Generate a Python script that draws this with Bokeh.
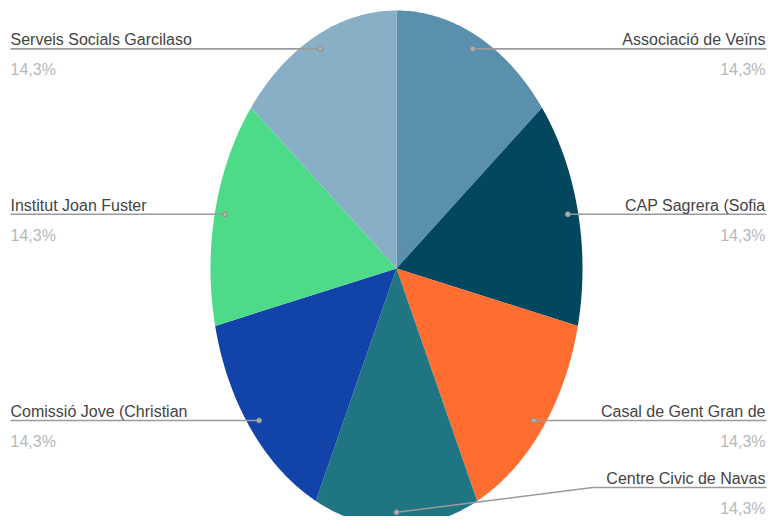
import numpy as np
from bokeh.plotting import figure
from bokeh.models import Range1d, ColumnDataSource
from bokeh.core.properties import value
from bokeh.embed import file_html
from bokeh.resources import INLINE

# ---- data ----
categories = [
    "Associació de Veïns",
    "CAP Sagrera (Sofia",
    "Casal de Gent Gran de",
    "Centre Civic de Navas",
    "Comissió Jove (Christian",
    "Institut Joan Fuster",
    "Serveis Socials Garcilaso",
]
shares = [14.3, 14.3, 14.3, 14.3, 14.3, 14.3, 14.3]
colors = ["#5b8fae", "#03475f", "#ff6d31", "#1f7682", "#1243a8", "#4ddb8a", "#88afc6"]

# ---- layout (screen-like coordinates, y downward) ----
W, H = 767, 516
CX, CY = 396, 268
RX, RY = 186, 258
ANCHOR_R = 0.945
LABEL_Y_MAX = 487
BEND_DX = 196
LEFT_X, RIGHT_X = 10, 765
FONT = "Liberation Sans"

p = figure(width=W, height=H, x_range=Range1d(0, W), y_range=Range1d(H, 0),
           output_backend="svg", toolbar_location=None, min_border=0,
           x_axis_type=None, y_axis_type=None)
p.grid.visible = False
p.outline_line_color = None
p.background_fill_color = "white"
p.border_fill_color = "white"

total = sum(shares)
fracs = np.array(shares) / total
ends = np.cumsum(fracs) * 2 * np.pi
starts = ends - fracs * 2 * np.pi

xs, ys = [], []
for a0, a1 in zip(starts, ends):
    t = np.linspace(a0, a1, 80)
    xs.append(np.concatenate([[CX], CX + RX * np.sin(t)]).tolist())
    ys.append(np.concatenate([[CY], CY - RY * np.cos(t)]).tolist())
p.patches(xs=xs, ys=ys, fill_color=colors, line_color=None)

mids = (starts + ends) / 2
ax = CX + RX * ANCHOR_R * np.sin(mids)
ay = CY - RY * ANCHOR_R * np.cos(mids)

lx, ly_ = [], []
name_x, name_y, pct_y, aligns, pcts = [], [], [], [], []
for i, (cat, m) in enumerate(zip(categories, mids)):
    right = np.sin(m) >= -1e-9
    y = min(ay[i], LABEL_Y_MAX)
    edge = RIGHT_X + 1 if right else LEFT_X
    if abs(y - ay[i]) > 0.5:
        px = [ax[i], ax[i] + BEND_DX, edge]
        py = [ay[i], y, y]
    else:
        px = [ax[i], edge]
        py = [ay[i], y]
    lx.append(px)
    ly_.append(py)
    name_x.append(RIGHT_X if right else LEFT_X)
    name_y.append(y - 9)
    pct_y.append(y + 21)
    aligns.append("right" if right else "left")
    pcts.append(f"{fracs[i] * 100:.1f}%".replace(".", ","))

p.multi_line(xs=lx, ys=ly_, line_color="#9a9a9a", line_width=1.6)
p.scatter(x=ax, y=ay, size=5, fill_color="#b0b0b0", line_color="#8c8c8c", line_width=1)

src = ColumnDataSource(dict(x=name_x, ny=name_y, py=pct_y, name=categories, pct=pcts, align=aligns))
p.text(x="x", y="ny", text="name", source=src, text_align="align", text_baseline="alphabetic",
       text_font=value(FONT), text_font_size="16px", text_color="#444444")
p.text(x="x", y="py", text="pct", source=src, text_align="align", text_baseline="alphabetic",
       text_font=value(FONT), text_font_size="16px", text_color="#b8b8b8")

open("out.html", "w").write(file_html(p, INLINE))
